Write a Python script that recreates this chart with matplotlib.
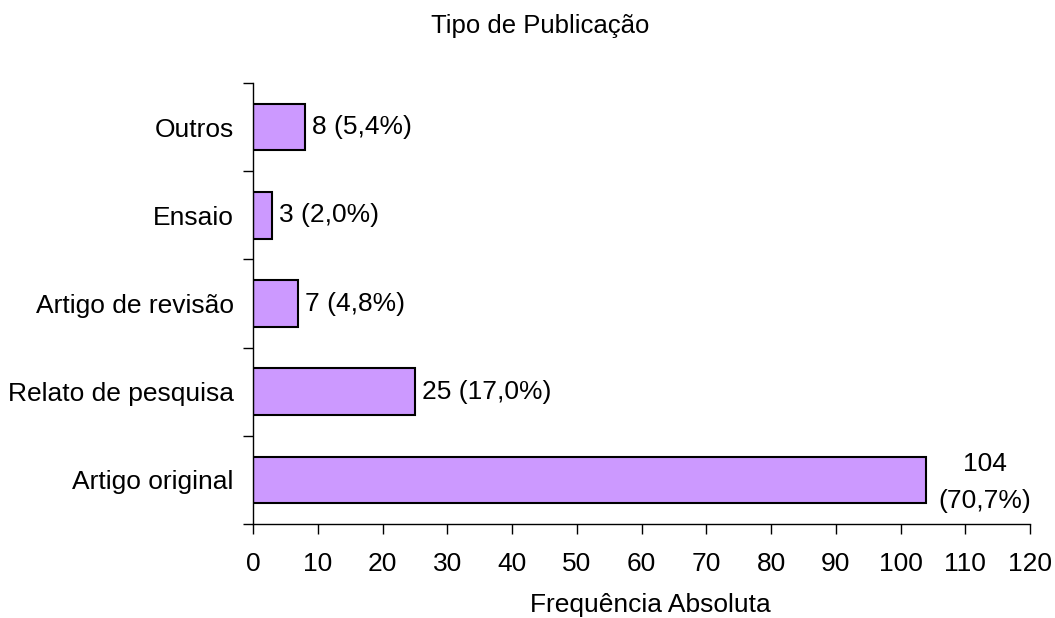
import matplotlib
matplotlib.use("Agg")
import matplotlib.pyplot as plt

categories = ["Artigo original", "Relato de pesquisa", "Artigo de revisão", "Ensaio", "Outros"]
counts = [104, 25, 7, 3, 8]
percents = ["70,7%", "17,0%", "4,8%", "2,0%", "5,4%"]

plt.rcParams["font.family"] = ["Liberation Sans", "DejaVu Sans"]
FS = 19

fig = plt.figure(figsize=(10.55, 6.18), dpi=100)
ax = fig.add_axes([253 / 1055, 1 - 524 / 618, (1030 - 253) / 1055, (524 - 83) / 618])

ypos = list(range(len(categories)))
ax.barh(ypos, counts, height=0.53, color="#CC99FF", edgecolor="black", linewidth=1.5)

ax.set_xlim(0, 120)
ax.set_ylim(-0.5, len(categories) - 0.5)
ax.set_xticks(range(0, 121, 10))
ax.tick_params(axis="x", labelsize=FS, length=7, width=1, pad=13.5, direction="out")

# category labels sit between the boundary tick marks
ax.set_yticks([y + 0.5 for y in range(-1, len(categories))])
ax.set_yticklabels([])
ax.set_yticks(ypos, minor=True)
ax.set_yticklabels(categories, minor=True, fontsize=FS)
ax.tick_params(axis="y", which="major", length=7, width=1, direction="out")
ax.tick_params(axis="y", which="minor", length=0, pad=14)

for s in ("top", "right"):
    ax.spines[s].set_visible(False)
for s in ("left", "bottom"):
    ax.spines[s].set_linewidth(1)

for y, c, p in zip(ypos, counts, percents):
    if c > 100:
        ax.annotate(f"{c}\n({p})", xy=(c, y), xytext=(42, -2), textcoords="offset points",
                    ha="center", va="center", fontsize=FS, linespacing=1.7)
    else:
        ax.annotate(f"{c} ({p})", xy=(c, y), xytext=(5, 0), textcoords="offset points",
                    ha="left", va="center", fontsize=FS)

fig.text(540 / 1055, 1 - 33 / 618, "Tipo de Publicação", ha="center", va="baseline", fontsize=18.5)
fig.text(650 / 1055, 1 - 612 / 618, "Frequência Absoluta", ha="center", va="baseline", fontsize=FS)

fig.savefig("out.png", dpi=100, facecolor="white")
